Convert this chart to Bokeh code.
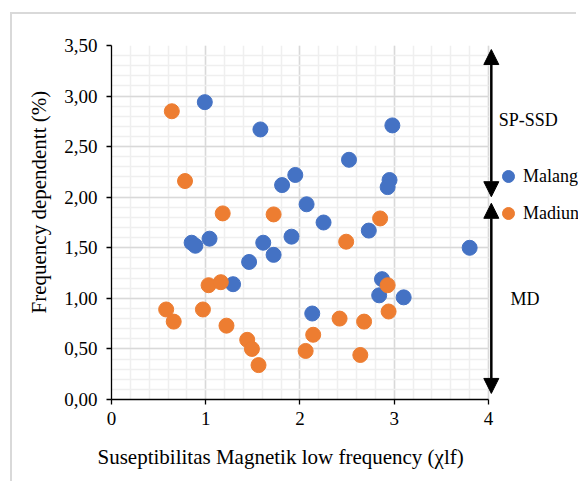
import math
from bokeh.plotting import figure
from bokeh.models import (Range1d, FixedTicker, Arrow, NormalHead, Label,
                          Legend, LegendItem, Title)
from bokeh.embed import file_html
from bokeh.resources import INLINE

# ---- data ----
malang_x = [0.99, 1.58, 1.81, 1.95, 2.98, 2.52, 2.95, 2.93, 2.07, 2.25, 2.73, 1.91,
            3.80, 2.87, 2.84, 3.10, 2.13, 0.85, 0.89, 1.04, 1.61, 1.72, 1.46, 1.29]
malang_y = [2.94, 2.67, 2.12, 2.22, 2.71, 2.37, 2.17, 2.10, 1.93, 1.75, 1.67, 1.61,
            1.50, 1.19, 1.03, 1.01, 0.85, 1.55, 1.52, 1.59, 1.55, 1.43, 1.36, 1.14]

madiun_x = [0.64, 0.78, 1.18, 1.72, 2.85, 2.49, 2.93, 2.94, 2.42, 2.68, 2.14,
            2.06, 2.64, 1.03, 1.16, 0.58, 0.97, 0.66, 1.22, 1.44, 1.49, 1.56]
madiun_y = [2.85, 2.16, 1.84, 1.83, 1.79, 1.56, 1.13, 0.87, 0.80, 0.77, 0.64,
            0.48, 0.44, 1.13, 1.16, 0.89, 0.89, 0.77, 0.73, 0.59, 0.50, 0.34]

series_names = ["Malang", "Madiun"]
x_ticks = [0, 1, 2, 3, 4]
x_tick_labels = ["0", "1", "2", "3", "4"]
y_ticks = [0.0, 0.5, 1.0, 1.5, 2.0, 2.5, 3.0, 3.5]
y_tick_labels = ["0,00", "0,50", "1,00", "1,50", "2,00", "2,50", "3,00", "3,50"]

x_title = "Suseptibilitas Magnetik low frequency (\u03c7lf)"
y_title = "Frequency dependentt (%)"
zone_labels = ["SP-SSD", "MD"]

FONT = "Liberation Serif"
BLUE = "#4472C4"
ORANGE = "#ED7D31"

W, H = 566, 469
X_MAX = 4.0
p = figure(width=W, height=H, output_backend="svg", toolbar_location=None,
           x_range=Range1d(0, 4.955), y_range=Range1d(0, 3.5),
           min_border_left=99, min_border_right=0,
           min_border_top=31, min_border_bottom=82)
p.styles = {"margin-left": "10px", "margin-top": "12px",
            "border-left": "2px solid #d9d9d9", "border-top": "2px solid #d9d9d9"}
p.outline_line_color = None
p.background_fill_color = "white"
p.border_fill_color = "white"

x_minor = [i * 0.2 for i in range(21)]
y_minor = [i * 0.1 for i in range(36)]
p.xaxis.ticker = FixedTicker(ticks=x_ticks, minor_ticks=x_minor)
p.yaxis.ticker = FixedTicker(ticks=y_ticks, minor_ticks=y_minor)
p.xaxis.major_label_overrides = {t: s for t, s in zip(x_ticks, x_tick_labels)}
p.yaxis.major_label_overrides = {t: s for t, s in zip(y_ticks, y_tick_labels)}
p.xaxis.bounds = (0, X_MAX)

for ax in (p.xaxis, p.yaxis):
    ax.axis_line_color = "black"
    ax.axis_line_width = 1.3
    ax.major_tick_line_color = "black"
    ax.major_tick_line_width = 1.3
    ax.major_tick_out = 5
    ax.major_tick_in = 0
    ax.minor_tick_out = 0
    ax.minor_tick_in = 0
    ax.major_label_text_font = FONT
    ax.major_label_text_font_size = "19px"
    ax.major_label_text_color = "black"
p.yaxis.major_label_standoff = 9
p.xaxis.major_label_standoff = 7

for g in (p.xgrid, p.ygrid):
    g.grid_line_color = "#d9d9d9"
    g.grid_line_width = 1.5
    g.minor_grid_line_color = "#efefef"
    g.minor_grid_line_width = 1.5
p.ygrid.cross_bounds = (0, X_MAX)

r1 = p.scatter(malang_x, malang_y, size=15, fill_color=BLUE, line_color=BLUE)
r2 = p.scatter(madiun_x, madiun_y, size=15, fill_color=ORANGE, line_color=ORANGE)

# axis titles (as side-panel titles so they are not clipped)
p.add_layout(Title(text=x_title, align="left", offset=-14, standoff=30,
                   text_font=FONT, text_font_size="21px", text_font_style="normal",
                   text_color="black"), "below")
p.add_layout(Title(text=y_title, align="left", offset=86, standoff=22,
                   text_font=FONT, text_font_size="21px", text_font_style="normal",
                   text_color="black"), "left")

# zone arrows
for y0, y1 in [(2.005, 3.46), (0.06, 1.94)]:
    p.add_layout(Arrow(start=NormalHead(size=15, fill_color="black", line_color="black"),
                       end=NormalHead(size=15, fill_color="black", line_color="black"),
                       x_start=4.03, y_start=y0, x_end=4.03, y_end=y1,
                       line_width=2.5, line_color="black"))

p.add_layout(Label(x=4.109, y=2.767, text=zone_labels[0], text_font=FONT,
                   text_font_size="18px", text_baseline="middle", text_color="black"))
p.add_layout(Label(x=4.234, y=0.992, text=zone_labels[1], text_font=FONT,
                   text_font_size="18px", text_baseline="middle", text_color="black"))

legend = Legend(items=[LegendItem(label=series_names[0], renderers=[r1]),
                       LegendItem(label=series_names[1], renderers=[r2])],
                location=(382, 171), glyph_width=30, glyph_height=30,
                label_standoff=-5, spacing=7, padding=0, margin=0,
                border_line_color=None, background_fill_alpha=0,
                label_text_font=FONT, label_text_font_size="18px",
                label_text_color="black")
p.add_layout(legend)

open("out.html", "w").write(file_html(p, INLINE))
